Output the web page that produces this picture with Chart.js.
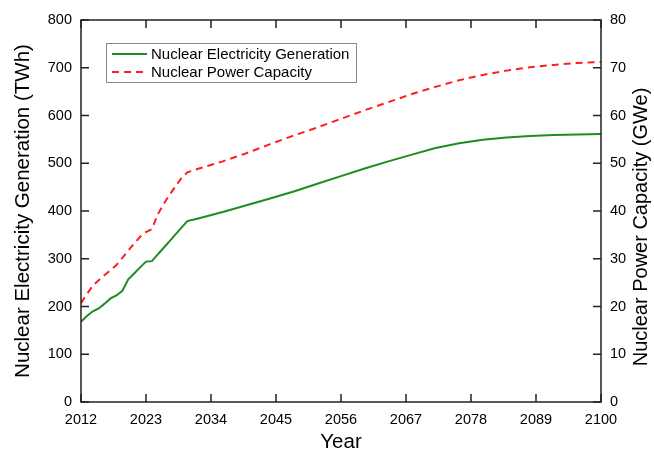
<!DOCTYPE html>
<html>
<head>
<meta charset="utf-8">
<script src="https://cdn.jsdelivr.net/npm/chart.js@4.4.1/dist/chart.umd.min.js"></script>
<style>
  html, body { margin: 0; padding: 0; background: #fff; }
  #wrap { width: 654px; height: 455px; }
</style>
</head>
<body>
<div id="wrap"><canvas id="myChart" width="654" height="455"></canvas></div>
<script>
// values
const years = [2012, 2013, 2014, 2015, 2016, 2017, 2018, 2019, 2020, 2021, 2022, 2023, 2024,
  2025, 2026, 2027, 2028, 2029, 2030, 2032, 2036, 2040, 2044, 2048, 2052, 2056, 2060,
  2064, 2068, 2072, 2076, 2080, 2084, 2088, 2092, 2096, 2100];
const generation = [168, 180, 190, 196, 206, 217, 223, 233, 257, 269, 282, 294, 295,
  309, 323, 337, 351, 365, 379, 385, 398, 412, 426, 441, 457, 473, 489,
  504, 518, 532, 542, 549, 554, 557, 559, 560, 561];
const capacity = [20.7, 22.6, 24.4, 25.5, 26.6, 27.6, 28.7, 30.2, 31.7, 33.2, 34.6, 35.6, 36.2,
  39.3, 41.5, 43.4, 45.2, 46.9, 48.1, 48.9, 50.4, 52.1, 54.0, 55.8, 57.5, 59.3, 61.1,
  62.8, 64.5, 66.0, 67.4, 68.5, 69.4, 70.1, 70.6, 71.0, 71.2];
const xTicks = [2012, 2023, 2034, 2045, 2056, 2067, 2078, 2089, 2100];
const seriesNames = ['Nuclear Electricity Generation', 'Nuclear Power Capacity'];
const rightTitle = 'Nuclear Power Capacity (GWe)';

const FONT = 'Liberation Sans, Arial, sans-serif';
const TITLE_SIZE = 20.5;

// frame round the plot with inward ticks, plus the right axis title read bottom to top
const framePlugin = {
  id: 'frame',
  afterDatasetsDraw(chart) {
    const ctx = chart.ctx;
    const a = chart.chartArea;
    const len = 8;
    ctx.save();
    ctx.strokeStyle = '#222';
    ctx.lineWidth = 1.5;
    ctx.strokeRect(a.left, a.top, a.right - a.left, a.bottom - a.top);
    ctx.beginPath();
    chart.scales.x.ticks.forEach(t => {
      const px = chart.scales.x.getPixelForValue(t.value);
      ctx.moveTo(px, a.bottom); ctx.lineTo(px, a.bottom - len);
      ctx.moveTo(px, a.top); ctx.lineTo(px, a.top + len);
    });
    chart.scales.y.ticks.forEach(t => {
      const py = chart.scales.y.getPixelForValue(t.value);
      ctx.moveTo(a.left, py); ctx.lineTo(a.left + len, py);
    });
    chart.scales.y2.ticks.forEach(t => {
      const py = chart.scales.y2.getPixelForValue(t.value);
      ctx.moveTo(a.right, py); ctx.lineTo(a.right - len, py);
    });
    ctx.stroke();

    const s = chart.scales.y2;
    ctx.translate(s.right - 13, (a.top + a.bottom) / 2 + 16);
    ctx.rotate(-Math.PI / 2);
    ctx.fillStyle = '#000';
    ctx.font = '20px ' + FONT;
    ctx.textAlign = 'center';
    ctx.textBaseline = 'middle';
    ctx.fillText(rightTitle, 0, 0);
    ctx.restore();
  }
};

// boxed legend inside the plot, top left
const legendPlugin = {
  id: 'boxLegend',
  afterDraw(chart) {
    const ctx = chart.ctx;
    const a = chart.chartArea;
    const x0 = a.left + 25, y0 = a.top + 23, w = 250, h = 39;
    ctx.save();
    ctx.fillStyle = '#fff';
    ctx.fillRect(x0, y0, w, h);
    ctx.strokeStyle = '#888';
    ctx.lineWidth = 1;
    ctx.strokeRect(x0 + 0.5, y0 + 0.5, w, h);
    chart.data.datasets.forEach((ds, i) => {
      const y = y0 + 11 + i * 18;
      ctx.beginPath();
      ctx.strokeStyle = ds.borderColor;
      ctx.lineWidth = ds.borderWidth;
      ctx.setLineDash(ds.borderDash || []);
      ctx.moveTo(x0 + 6, y);
      ctx.lineTo(x0 + 41, y);
      ctx.stroke();
      ctx.setLineDash([]);
      ctx.fillStyle = '#000';
      ctx.font = '15px ' + FONT;
      ctx.textBaseline = 'middle';
      ctx.fillText(ds.label, x0 + 45, y + 1);
    });
    ctx.restore();
  }
};

const data = {
  datasets: [{
    label: seriesNames[0],
    data: years.map((y, i) => ({ x: y, y: generation[i] })),
    borderColor: '#1e8c1e',
    borderWidth: 2,
    yAxisID: 'y'
  }, {
    label: seriesNames[1],
    data: years.map((y, i) => ({ x: y, y: capacity[i] })),
    borderColor: '#ff1f1f',
    borderWidth: 2,
    borderDash: [7, 5],
    yAxisID: 'y2'
  }]
};

const config = {
  type: 'line',
  data: data,
  options: {
    responsive: false,
    animation: false,
    layout: { padding: { top: 20, left: 0, right: 0, bottom: 0 } },
    elements: { point: { radius: 0 }, line: { tension: 0 } },
    plugins: { legend: { display: false }, tooltip: { enabled: false } },
    scales: {
      x: {
        type: 'linear',
        min: 2012,
        max: 2100,
        afterBuildTicks: s => { s.ticks = xTicks.map(v => ({ value: v })); },
        afterFit: s => { s.height = 53; },
        grid: { display: false, drawTicks: false },
        border: { display: false },
        ticks: { color: '#000', padding: 9, font: { family: FONT, size: 14.5 }, callback: v => String(v) },
        title: { display: true, text: 'Year', color: '#000', padding: { top: 0, bottom: 0 }, font: { family: FONT, size: TITLE_SIZE } }
      },
      y: {
        position: 'left',
        min: 0,
        max: 800,
        afterFit: s => { s.width = 81; },
        grid: { display: false, drawTicks: false },
        border: { display: false },
        ticks: { stepSize: 100, color: '#000', padding: 9, font: { family: FONT, size: 14.5 } },
        title: { display: true, text: 'Nuclear Electricity Generation (TWh)', color: '#000', padding: { top: 11, bottom: 0 }, font: { family: FONT, size: TITLE_SIZE } }
      },
      y2: {
        position: 'right',
        min: 0,
        max: 80,
        afterFit: s => { s.width = 53; },
        grid: { display: false, drawTicks: false },
        border: { display: false },
        ticks: { stepSize: 10, color: '#000', padding: 9, font: { family: FONT, size: 14.5 } },
        title: { display: false }
      }
    }
  },
  plugins: [framePlugin, legendPlugin]
};

const myChart = new Chart(document.getElementById('myChart'), config);
</script>
</body>
</html>
